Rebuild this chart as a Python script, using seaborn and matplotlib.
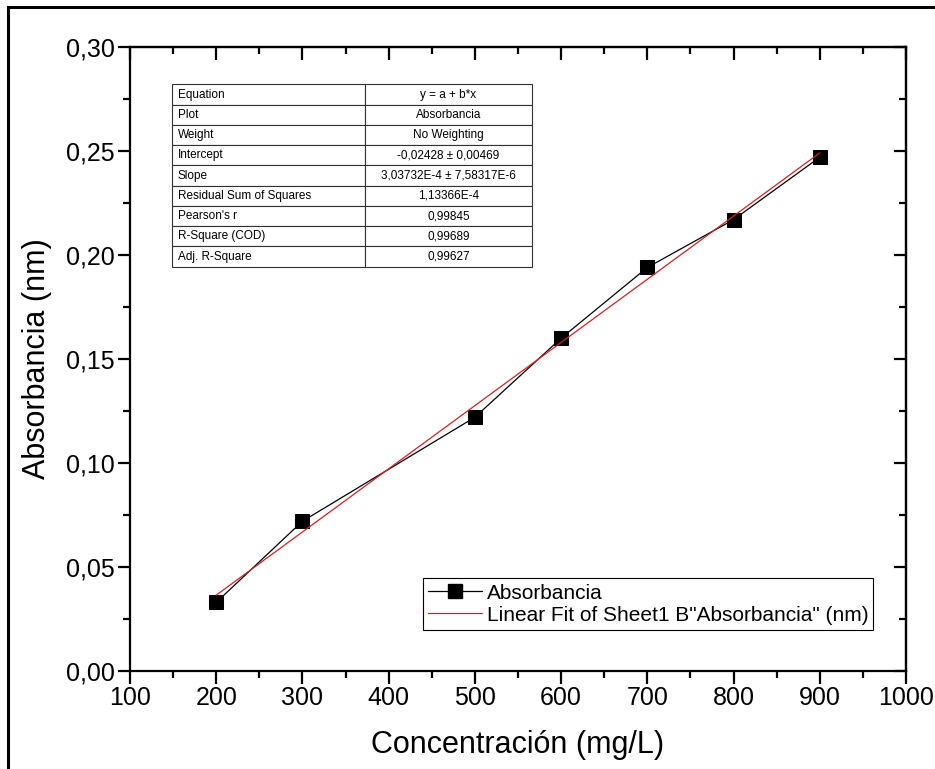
import numpy as np
import pandas as pd
import seaborn as sns
import matplotlib.pyplot as plt
from matplotlib.ticker import FuncFormatter, MultipleLocator
from matplotlib.lines import Line2D
from matplotlib.patches import Rectangle

# Data
concentration = [200, 300, 500, 600, 700, 800, 900]
absorbance = [0.033, 0.072, 0.122, 0.160, 0.194, 0.217, 0.247]

# Linear fit results (from the fit table)
intercept = -0.02428
slope = 3.03732e-4

table_labels = ['Equation', 'Plot', 'Weight', 'Intercept', 'Slope',
                'Residual Sum of Squares', "Pearson's r", 'R-Square (COD)', 'Adj. R-Square']
table_values = ['y = a + b*x', 'Absorbancia', 'No Weighting', '-0,02428 ± 0,00469',
                '3,03732E-4 ± 7,58317E-6', '1,13366E-4', '0,99845', '0,99689', '0,99627']

sns.set_style('ticks')
plt.rcParams['font.family'] = ['Liberation Sans', 'DejaVu Sans']
plt.rcParams['text.color'] = 'black'
plt.rcParams['axes.labelcolor'] = 'black'
plt.rcParams['xtick.color'] = 'black'
plt.rcParams['ytick.color'] = 'black'

df = pd.DataFrame({'x': concentration, 'y': absorbance})
fit_x = np.array([concentration[0], concentration[-1]])
fit_df = pd.DataFrame({'x': fit_x, 'y': intercept + slope * fit_x})

fig = plt.figure(figsize=(9.35, 7.69), dpi=100)
ax = fig.add_axes([0.139, 0.1274, 0.830, 0.8115])

sns.lineplot(data=df, x='x', y='y', ax=ax, color='black', linewidth=0.9,
             marker='s', markersize=10, markeredgecolor='black')
sns.lineplot(data=fit_df, x='x', y='y', ax=ax, color='#d62020', linewidth=0.9)

ax.set_xlim(100, 1000)
ax.set_ylim(0, 0.30)
ax.xaxis.set_major_locator(MultipleLocator(100))
ax.xaxis.set_minor_locator(MultipleLocator(50))
ax.yaxis.set_major_locator(MultipleLocator(0.05))
ax.yaxis.set_minor_locator(MultipleLocator(0.025))
ax.yaxis.set_major_formatter(FuncFormatter(lambda v, p: f'{v:.2f}'.replace('.', ',')))

for s in ax.spines.values():
    s.set_linewidth(1.6)
    s.set_color('black')

# bottom/left ticks point outward, top/right ticks point inward
ax.tick_params(axis='both', which='major', labelsize=18, width=1.6, length=9,
               color='black', labelcolor='black', direction='out', pad=2)
ax.tick_params(axis='both', which='minor', width=1.6, length=5, color='black', direction='out')
sec_x = ax.secondary_xaxis('top')
sec_x.xaxis.set_major_locator(MultipleLocator(100))
sec_x.xaxis.set_minor_locator(MultipleLocator(50))
sec_x.tick_params(which='both', direction='in', labeltop=False, width=1.6, color='black')
sec_x.tick_params(which='major', length=9)
sec_x.tick_params(which='minor', length=5)
sec_x.spines['top'].set_linewidth(1.6)
sec_y = ax.secondary_yaxis('right')
sec_y.yaxis.set_major_locator(MultipleLocator(0.05))
sec_y.yaxis.set_minor_locator(MultipleLocator(0.025))
sec_y.tick_params(which='both', direction='in', labelright=False, width=1.6, color='black')
sec_y.tick_params(which='major', length=9)
sec_y.tick_params(which='minor', length=5)
sec_y.spines['right'].set_linewidth(1.6)

ax.set_xlabel('Concentración (mg/L)', fontsize=22, labelpad=14)
ax.set_ylabel('Absorbancia (nm)', fontsize=22, labelpad=10)

handles = [
    Line2D([], [], color='black', linewidth=0.9, marker='s', markersize=10),
    Line2D([], [], color='#d62020', linewidth=0.9),
]
leg = ax.legend(handles, ['Absorbancia', 'Linear Fit of Sheet1 B"Absorbancia" (nm)'],
                loc='lower right', bbox_to_anchor=(0.958, 0.066), fontsize=15,
                fancybox=False, framealpha=1, edgecolor='black', handlelength=2.6,
                handletextpad=0.2, borderpad=0.25, labelspacing=0.15, borderaxespad=0)
leg.get_frame().set_linewidth(0.8)
for t in leg.get_texts():
    t.set_color('black')

cell_text = [[lab, val] for lab, val in zip(table_labels, table_values)]
tbl = ax.table(cellText=cell_text, colWidths=[0.536, 0.464],
               bbox=[0.054, 0.648, 0.464, 0.292], cellLoc='center')
tbl.auto_set_font_size(False)
tbl.set_fontsize(8.5)
for (r, c), cell in tbl.get_celld().items():
    cell.set_linewidth(0.8)
    cell.set_edgecolor('#333333')
    cell.get_text().set_color('black')
    if c == 0:
        cell.get_text().set_ha('left')
        cell.PAD = 0.03

# outer frame of the original image (left and top edges only)
fig.patches.append(Rectangle((8 / 935, -0.1), 2.0, 1.1 - 7 / 769, transform=fig.transFigure,
                             fill=False, edgecolor='black', linewidth=2.2))

fig.savefig('out.png', dpi=100)
